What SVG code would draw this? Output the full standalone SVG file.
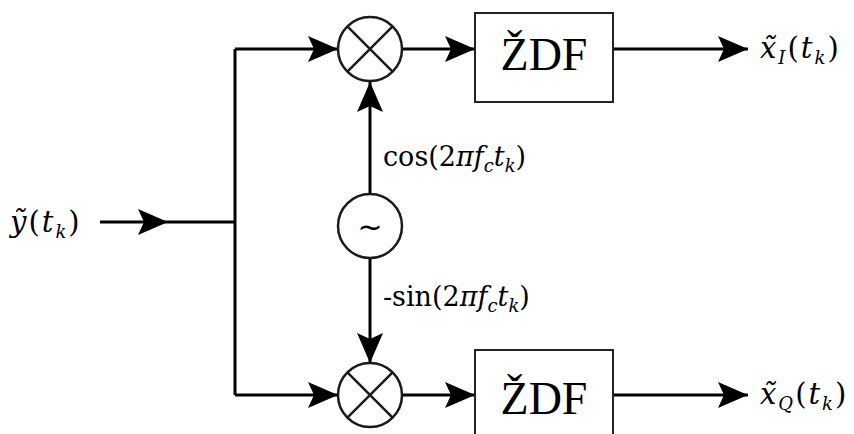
<svg xmlns="http://www.w3.org/2000/svg" width="854" height="434" viewBox="0 0 854 434">
<style>
.ln{stroke:#000;stroke-width:3;fill:none}
.nd{stroke:#1a1a1a;stroke-width:2.5;fill:#fff}
.bx{stroke:#222;stroke-width:2;fill:#fff}
.m{font-family:"DejaVu Serif","Liberation Serif",serif;font-size:27px;fill:#000}
.io{font-size:29px;letter-spacing:2px}
.i{font-style:italic}
.s{font-size:18px}
.z{font-family:"Liberation Serif","Times New Roman",serif;font-size:46px;fill:#000}
</style>
<defs>
<marker id="ah" markerUnits="userSpaceOnUse" markerWidth="32" markerHeight="26" refX="30" refY="13" orient="auto">
<polygon points="0,0 30,13 0,26 6,13" fill="#000"/>
</marker>
</defs>
<g id="connectors">
<path class="ln" d="M100,222 L168,222 L235,222" marker-mid="url(#ah)"/>
<path class="ln" d="M235,49 L235,395"/>
<path class="ln" d="M235,49 L338,49" marker-end="url(#ah)"/>
<path class="ln" d="M235,395 L338,395" marker-end="url(#ah)"/>
<path class="ln" d="M402,49 L475,49" marker-end="url(#ah)"/>
<path class="ln" d="M402,395 L475,395" marker-end="url(#ah)"/>
<path class="ln" d="M613,49 L748,49" marker-end="url(#ah)"/>
<path class="ln" d="M613,395 L748,395" marker-end="url(#ah)"/>
<path class="ln" d="M370,194 L370,82" marker-end="url(#ah)"/>
<path class="ln" d="M370,258 L370,363" marker-end="url(#ah)"/>
</g>
<g id="mixer-top">
<circle class="nd" cx="370" cy="49" r="32"/>
<path class="nd" d="M347.4,26.4 L392.6,71.6 M392.6,26.4 L347.4,71.6"/>
</g>
<g id="mixer-bottom">
<circle class="nd" cx="370" cy="395" r="32"/>
<path class="nd" d="M347.4,372.4 L392.6,417.6 M392.6,372.4 L347.4,417.6"/>
</g>
<g id="oscillator">
<circle class="nd" cx="370" cy="226" r="32"/>
<text x="370" y="237" text-anchor="middle" font-family="DejaVu Sans, sans-serif" font-size="30" fill="#000">~</text>
</g>
<g id="zdf-top">
<rect class="bx" x="475" y="13" width="138" height="89"/>
<text class="z" x="544" y="70" text-anchor="middle">ŽDF</text>
</g>
<g id="zdf-bottom">
<rect class="bx" x="475" y="350" width="138" height="89"/>
<text class="z" x="544" y="414" text-anchor="middle">ŽDF</text>
</g>
<g id="labels">
<text class="m io" x="10" y="232"><tspan class="i">ỹ</tspan>(<tspan class="i">t</tspan><tspan class="i s" dy="6">k</tspan><tspan dy="-6">)</tspan></text>
<text class="m io" x="760" y="58"><tspan class="i">x̃</tspan><tspan class="i s" dy="6">I</tspan><tspan dy="-6">(</tspan><tspan class="i">t</tspan><tspan class="i s" dy="6">k</tspan><tspan dy="-6">)</tspan></text>
<text class="m io" x="760" y="404"><tspan class="i">x̃</tspan><tspan class="i s" dy="6">Q</tspan><tspan dy="-6">(</tspan><tspan class="i">t</tspan><tspan class="i s" dy="6">k</tspan><tspan dy="-6">)</tspan></text>
<text class="m" x="383" y="166">cos(2<tspan class="i">π</tspan><tspan class="i">f</tspan><tspan class="i s" dy="6">c</tspan><tspan class="i" dy="-6">t</tspan><tspan class="i s" dy="6">k</tspan><tspan dy="-6">)</tspan></text>
<text class="m" x="383" y="306">-sin(2<tspan class="i">π</tspan><tspan class="i">f</tspan><tspan class="i s" dy="6">c</tspan><tspan class="i" dy="-6">t</tspan><tspan class="i s" dy="6">k</tspan><tspan dy="-6">)</tspan></text>
</g>
</svg>
